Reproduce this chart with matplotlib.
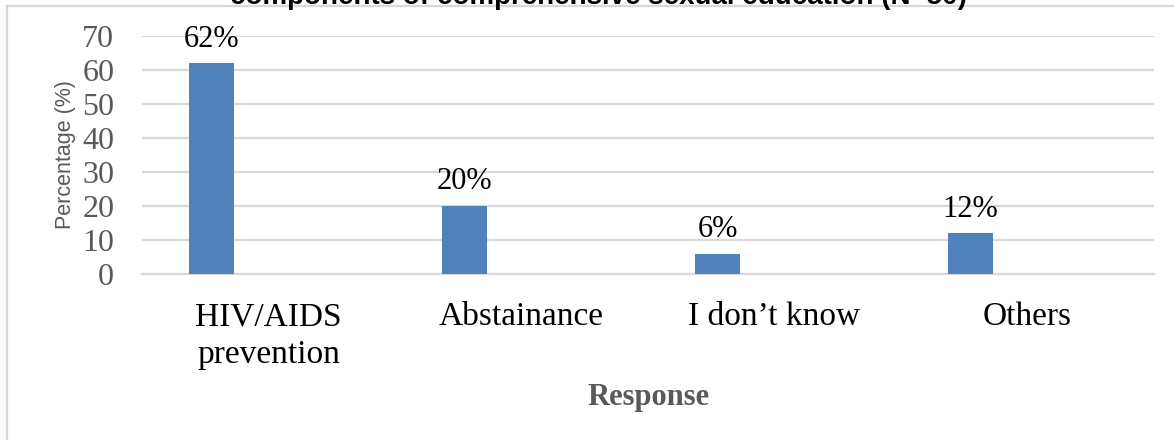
import matplotlib.pyplot as plt
from matplotlib.lines import Line2D

# Survey responses
responses = ['HIV/AIDS\nprevention', 'Abstainance', 'I don\u2019t know', 'Others']
percent = [62, 20, 6, 12]
bar_labels = ['62%', '20%', '6%', '12%']
yticks = [0, 10, 20, 30, 40, 50, 60, 70]

blue = '#4f81bd'
grey = '#595959'
light = '#d9d9d9'
serif = 'Liberation Serif'

fig = plt.figure(figsize=(11.74, 4.40), dpi=100)
ax = fig.add_axes([142/1174, 1 - 274/440, 1012/1174, 238/440])

x = list(range(len(responses)))
xb = [i - 0.225 for i in x]
bars = ax.bar(xb, percent, width=0.178, color=blue, zorder=3)

for b, lab in zip(bars, bar_labels):
    ax.annotate(lab, (b.get_x() + b.get_width()/2, b.get_height()),
                xytext=(0, 12), textcoords='offset points',
                ha='center', va='baseline', fontsize=22, family=serif,
                color='black')

ax.set_xlim(-0.5, 3.5)
ax.set_ylim(0, 70)
ax.set_yticks(yticks)
ax.set_yticklabels([str(t) for t in yticks], family=serif, fontsize=23, color=grey)
ax.set_xticks(x)
ax.set_xticklabels(responses, family=serif, fontsize=24, color='black',
                   va='top', linespacing=1.3)
ax.tick_params(axis='y', length=0, pad=20)
ax.tick_params(axis='x', length=0, pad=20)

ax.yaxis.grid(True, color=light, linewidth=1.6, zorder=0)
for s in ['top', 'right', 'left']:
    ax.spines[s].set_visible(False)
ax.spines['bottom'].set_color(light)
ax.spines['bottom'].set_linewidth(1.6)

ax.set_ylabel('Percentage (%)', family='Liberation Sans', fontsize=15.5, color=grey,
              va='center')
ax.yaxis.set_label_coords(-0.076, 0.5)
ax.set_xlabel('Response', family=serif, fontweight='bold', fontsize=22, color=grey)
ax.xaxis.set_label_coords(0.5, -0.52)
ax.xaxis.label.set_va('center')

# chart frame and the clipped title above it
fig.add_artist(Line2D([7/1174, 7/1174], [0, 1 - 6/440], color=light, lw=1.6))
fig.add_artist(Line2D([7/1174, 1], [1 - 6/440, 1 - 6/440], color=light, lw=1.6))
fig.text(598/1174, 1 - 4/440, 'components of comprehensive sexual education (N=50)',
         ha='center', va='baseline', fontsize=20, fontweight='bold',
         family='Liberation Sans', color='black')

fig.savefig('out.png', dpi=100)
